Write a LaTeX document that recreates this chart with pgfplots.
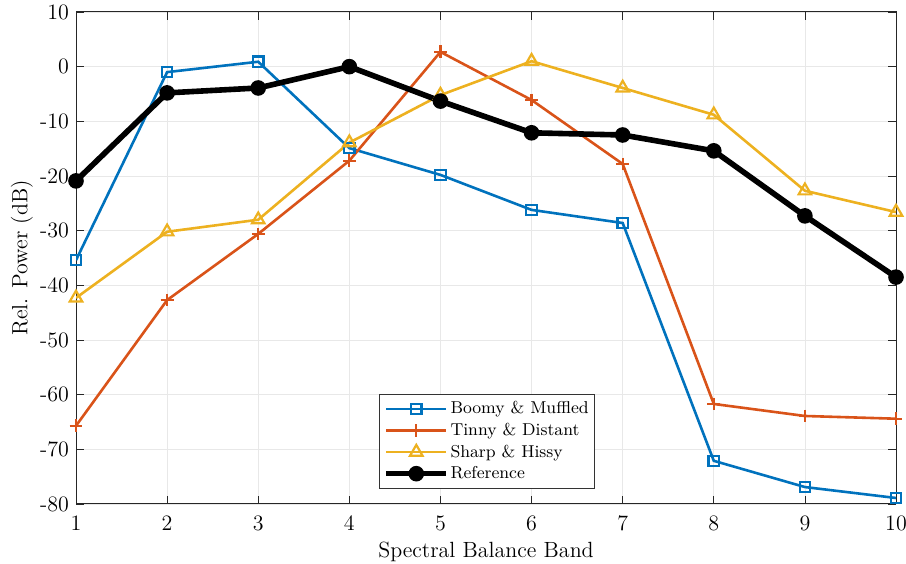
\documentclass[border=0pt]{standalone}
\usepackage{pgfplots}
\pgfplotsset{compat=1.18}
\definecolor{mblue}{rgb}{0,0.447,0.741}
\definecolor{morange}{rgb}{0.85,0.325,0.098}
\definecolor{myellow}{rgb}{0.929,0.694,0.125}
\begin{document}
\begin{tikzpicture}
\begin{axis}[
  name=ax,
  scale only axis,
  width=410pt, height=246pt,
  xmin=1, xmax=10, ymin=-80, ymax=10,
  xtick={1,...,10},
  ytick={-80,-70,...,10},
  yticklabels={-80,-70,-60,-50,-40,-30,-20,-10,0,10},
  xticklabels={1,2,3,4,5,6,7,8,9,10},
  tick label style={font=\fontsize{11}{13}\selectfont},
  xticklabel style={yshift=-2.3pt},
  label style={font=\fontsize{11}{13}\selectfont},
  xlabel={Spectral Balance Band},
  ylabel={Rel. Power (dB)},
  xlabel style={at={(axis description cs:0.5,0)}, anchor=center, yshift=-24pt},
  ylabel style={at={(axis description cs:0,0.5)}, anchor=center, yshift=27pt},
  grid=major,
  major grid style={gray!18, line width=0.4pt},
  tick align=inside,
  major tick length=4pt,
  axis line style={black!85, line width=0.5pt},
  every tick/.style={black!85},
  legend style={at={(0.3695,0.0305)}, anchor=south west, font=\fontsize{8.6}{10}\selectfont,
    draw=black!80, line width=0.5pt, inner sep=2pt, row sep=0pt,
    nodes={inner sep=0.7pt, text height=7.2pt, text depth=2.2pt}},
  legend cell align=left,
  legend image code/.code={\draw[mark repeat=2,mark phase=2,#1] plot coordinates {(0pt,0pt) (15pt,0pt) (30pt,0pt)};},
]
\addplot[color=mblue, line width=1.3pt, mark=square, mark size=2.6pt, mark options={line width=1.1pt}]
coordinates {(1,-35.4) (2,-1.0) (3,0.9) (4,-14.9) (5,-19.8) (6,-26.2) (7,-28.6) (8,-72.1) (9,-76.9) (10,-78.9)};
\addlegendentry{Boomy \& Muffled}
\addplot[color=morange, line width=1.3pt, mark=+, mark size=3.2pt, mark options={line width=1.1pt}]
coordinates {(1,-65.7) (2,-42.7) (3,-30.6) (4,-17.2) (5,2.7) (6,-6.1) (7,-17.8) (8,-61.7) (9,-63.9) (10,-64.4)};
\addlegendentry{Tinny \& Distant}
\addplot[color=myellow, line width=1.3pt, mark=triangle, mark size=3.6pt, mark options={line width=1.1pt}]
coordinates {(1,-42.3) (2,-30.2) (3,-28.0) (4,-13.9) (5,-5.2) (6,1.0) (7,-3.9) (8,-8.8) (9,-22.7) (10,-26.6)};
\addlegendentry{Sharp \& Hissy}
\addplot[color=black, line width=2.8pt, mark=*, mark size=3.4pt, mark options={fill=black, line width=1pt}]
coordinates {(1,-20.9) (2,-4.8) (3,-3.9) (4,0) (5,-6.3) (6,-12.1) (7,-12.5) (8,-15.4) (9,-27.3) (10,-38.5)};
\addlegendentry{Reference}
\end{axis}
\pgfresetboundingbox
\path[use as bounding box] ([xshift=-38pt,yshift=-30pt]ax.south west) rectangle ([xshift=5pt,yshift=6pt]ax.north east);
\end{tikzpicture}
\end{document}
